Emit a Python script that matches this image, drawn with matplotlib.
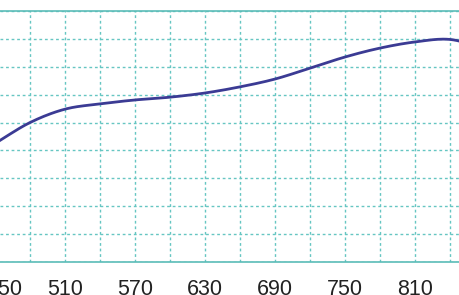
import matplotlib
matplotlib.use("Agg")
from matplotlib import pyplot as plt
import numpy as np

plt.rcParams['font.family'] = ['Liberation Sans', 'DejaVu Sans']

# values
x_vals = [450, 480, 510, 540, 570, 600, 630, 660, 690, 720, 750, 780, 810, 840, 870]
y_vals = [42.5, 50.0, 54.8, 56.7, 58.1, 59.1, 60.6, 62.8, 65.6, 69.5, 73.5, 76.7, 78.9, 79.8, 76.5]
tick_labels = [450, 510, 570, 630, 690, 750, 810]


def smooth(xs, ys, n=20):
    # catmull-rom style smoothing of the polyline
    xs = np.asarray(xs, float)
    ys = np.asarray(ys, float)
    px = np.concatenate([[2 * xs[0] - xs[1]], xs, [2 * xs[-1] - xs[-2]]])
    py = np.concatenate([[2 * ys[0] - ys[1]], ys, [2 * ys[-1] - ys[-2]]])
    outx, outy = [], []
    t = np.linspace(0, 1, n, endpoint=False)
    for i in range(1, len(px) - 2):
        for p, out in ((px, outx), (py, outy)):
            p0, p1, p2, p3 = p[i - 1], p[i], p[i + 1], p[i + 2]
            out.extend(0.5 * (2 * p1 + (-p0 + p2) * t
                              + (2 * p0 - 5 * p1 + 4 * p2 - p3) * t ** 2
                              + (-p0 + 3 * p1 - 3 * p2 + p3) * t ** 3))
    outx.append(xs[-1])
    outy.append(ys[-1])
    return np.array(outx), np.array(outy)


fig = plt.figure(figsize=(4.6, 2.95), dpi=100)
ax = fig.add_axes([0, 33 / 295, 1, 251 / 295])

sx, sy = smooth(x_vals, y_vals)
ax.plot(sx, sy, color="#3b3b94", lw=2.0, solid_capstyle="round")

ax.set_xticks(tick_labels)
ax.set_xticks(np.arange(420, 900, 30), minor=True)
ax.set_yticks(np.arange(0, 91, 10))
ax.set_yticklabels([])
ax.set_xlim(454.3, 848.6)
ax.set_ylim(0, 90)
ax.grid(True, which="both", axis="x", color="#66c6c2", ls=(0, (2, 2)), lw=1)
ax.grid(True, axis="y", color="#66c6c2", ls=(0, (2, 2)), lw=1)
ax.tick_params(which="both", length=0)
ax.tick_params(axis="x", labelsize=15.5, pad=12, labelcolor="#222222")

# the first label's tick is just left of the view; its label is pushed in a bit
for v in tick_labels:
    if v < 454.3:
        ax.annotate(str(v), xy=(v, 0), xycoords=("data", "axes fraction"),
                    xytext=(6.5, -12), textcoords="offset points",
                    ha="center", va="top", fontsize=15.5, color="#222222",
                    annotation_clip=False)

for s in ["left", "right"]:
    ax.spines[s].set_visible(False)
for s in ["top", "bottom"]:
    ax.spines[s].set_color("#5bbcb8")
    ax.spines[s].set_linewidth(1.2)

fig.savefig("out.png", dpi=100)
